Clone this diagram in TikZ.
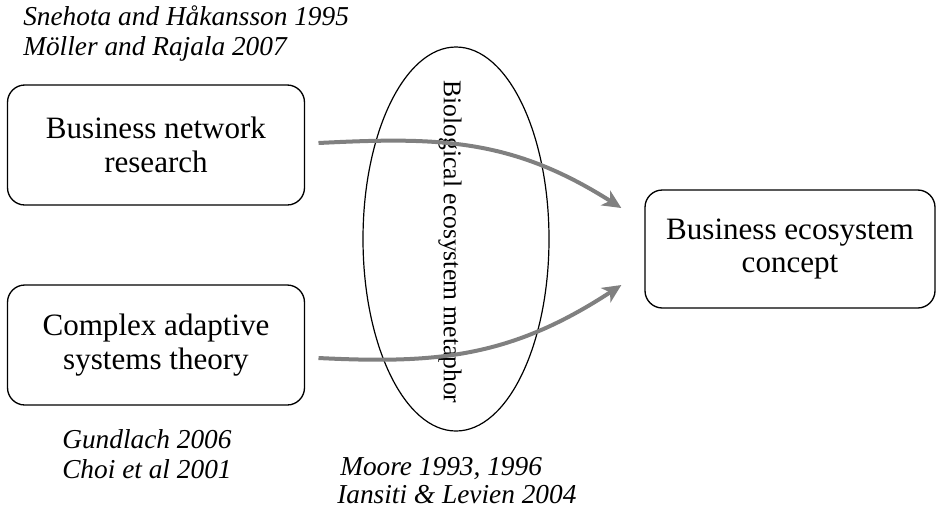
\documentclass[tikz,border=0pt]{standalone}
\usepackage{fontspec}
\setmainfont{Liberation Serif}
\usetikzlibrary{arrows.meta,shapes.geometric}
\definecolor{ecoInk}{RGB}{0,0,0}
\definecolor{ecoFlow}{RGB}{128,128,128}
\tikzset{
  ecite/.style={font=\itshape\fontsize{20.5}{24}\selectfont,
    text=ecoInk, anchor=base west, inner sep=0pt},
  ebox/.style={draw=ecoInk, rounded corners=13pt, line width=1pt,
    align=center, font=\fontsize{23.3}{25}\selectfont, text=ecoInk},
  eflow/.style={-{Stealth[length=14pt,width=13pt,inset=4pt]},
    line width=3pt, draw=ecoFlow}
}

\begin{document}
\begin{tikzpicture}[x=.75pt, y=-.75pt,
  metaph/.style={ellipse, draw=ecoInk, line width=.9pt,
    minimum width=139.5pt, minimum height=288pt, inner sep=0pt},
  metatext/.style={rotate=-90, inner sep=0pt,
    font=\fontsize{19.2}{22}\selectfont, text=ecoInk}
]
\useasboundingbox (0,0) rectangle (938,512);

\node[ecite] (snehota) at (23,25) {Snehota and Håkansson 1995};
\node[ecite] (moller) at (23,55) {Möller and Rajala 2007};

\node[ebox, minimum width=222.75pt, minimum height=90pt] (bnr) at (156,145)
  {Business network\\research};
\node[ebox, minimum width=222.75pt, minimum height=90pt] (cas) at (156,345)
  {Complex adaptive\\systems theory};
\node[ebox, minimum width=217.5pt, minimum height=88.5pt] (bec) at (790,249)
  {Business ecosystem\\concept};

\node[metaph] (bio) at (456,239) {};
\node[metatext] (biotext) at (450,242) {Biological ecosystem metaphor};

\coordinate (in1) at ([xshift=-17.25pt,yshift=30.75pt]bec.west);
\coordinate (in2) at ([xshift=-17.25pt,yshift=-27pt]bec.west);
\draw[eflow] ([xshift=10pt,yshift=1.5pt]bnr.east)
  .. controls +(120,-6) and +(-110,-70) .. (in1);
\draw[eflow] ([xshift=10pt,yshift=-9.75pt]cas.east)
  .. controls +(120,6) and +(-110,72) .. (in2);

\node[ecite] (gundlach) at (62,448) {Gundlach 2006};
\node[ecite] (choi) at (62,478) {Choi et al 2001};
\node[ecite] (moore) at (340,475) {Moore 1993, 1996};
\node[ecite] (iansiti) at (337,503) {Iansiti \& Levien 2004};
\end{tikzpicture}
\end{document}
